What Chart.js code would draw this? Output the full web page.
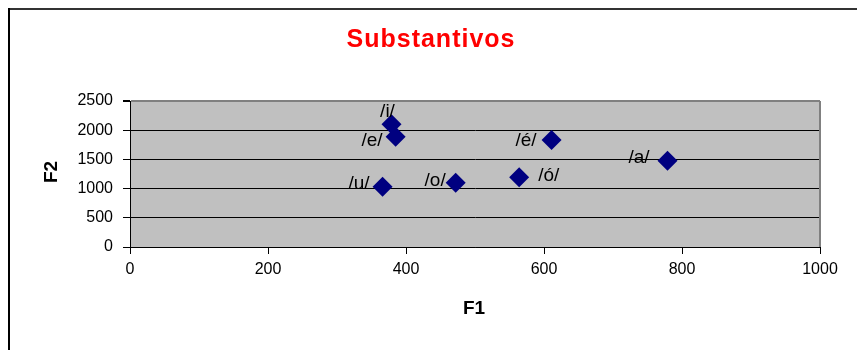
<!DOCTYPE html>
<html>
<head>
<meta charset="utf-8">
<script src="https://cdn.jsdelivr.net/npm/chart.js@4.4.1/dist/chart.umd.min.js"></script>
<style>
html, body { margin: 0; padding: 0; background: #fff; }
#wrap { position: relative; width: 857px; height: 350px; }
</style>
</head>
<body>
<div id="wrap"><canvas id="chart" width="857" height="350"></canvas></div>
<script>
// Datos: vocales (F1, F2)
var vowels = ['/i/', '/e/', '/é/', '/a/', '/ó/', '/o/', '/u/'];
var f1 = [379, 385, 611, 779, 564, 472, 366];
var f2 = [2101, 1889, 1832, 1478, 1193, 1101, 1033];
var xTicks = [0, 200, 400, 600, 800, 1000];
var yTicks = [0, 500, 1000, 1500, 2000, 2500];

// Posición de cada etiqueta respecto a su punto (como en la hoja original)
var labelPlace = [
    { align: 'center', dx: -4, dy: -13 },
    { align: 'right', dx: -13, dy: 4 },
    { align: 'right', dx: -15, dy: 1 },
    { align: 'right', dx: -18, dy: -3 },
    { align: 'left', dx: 19, dy: -2 },
    { align: 'right', dx: -10, dy: -2 },
    { align: 'right', dx: -13, dy: -3 }
];

var FONT = "'Liberation Sans', Arial, sans-serif";

// Fondo, marco y textos
var decoPlugin = {
    id: 'deco',
    beforeDraw: function (chart) {
        var ctx = chart.ctx, a = chart.chartArea;
        ctx.save();
        ctx.fillStyle = '#fff';
        ctx.fillRect(0, 0, chart.width, chart.height);
        // marco exterior
        ctx.fillStyle = '#333';
        ctx.fillRect(8, 8, chart.width - 8, 2);
        ctx.fillStyle = '#000';
        ctx.fillRect(8, 8, 2, chart.height - 8);
        // área del gráfico
        ctx.fillStyle = '#c0c0c0';
        ctx.fillRect(a.left, a.top, a.right - a.left, a.bottom - a.top);
        ctx.restore();
    },
    afterDatasetsDraw: function (chart) {
        var ctx = chart.ctx, a = chart.chartArea;
        var meta = chart.getDatasetMeta(0);
        ctx.save();
        // borde derecho gris
        ctx.fillStyle = '#808080';
        ctx.fillRect(a.right - 1, a.top, 2, a.bottom - a.top);
        // etiquetas de los puntos
        ctx.fillStyle = '#000';
        ctx.font = '19px ' + FONT;
        ctx.textBaseline = 'middle';
        meta.data.forEach(function (pt, i) {
            var p = labelPlace[i];
            ctx.textAlign = p.align;
            ctx.fillText(vowels[i], pt.x + p.dx, pt.y + p.dy);
        });
        // título
        ctx.fillStyle = '#ff0000';
        ctx.font = 'bold 25px ' + FONT;
        ctx.letterSpacing = '1px';
        ctx.textAlign = 'center';
        ctx.fillText('Substantivos', 431, 40);
        ctx.letterSpacing = '0px';
        // títulos de ejes
        ctx.fillStyle = '#000';
        ctx.font = 'bold 19px ' + FONT;
        ctx.fillText('F1', 474, 309);
        ctx.translate(52, 172);
        ctx.rotate(-Math.PI / 2);
        ctx.fillText('F2', 0, 0);
        ctx.restore();
    }
};

var ctx = document.getElementById('chart').getContext('2d');
new Chart(ctx, {
    type: 'scatter',
    data: {
        datasets: [{
            data: f1.map(function (x, i) { return { x: x, y: f2[i] }; }),
            pointStyle: 'rectRot',
            pointRadius: 10,
            pointHoverRadius: 10,
            backgroundColor: '#000080',
            borderColor: '#000080',
            borderWidth: 0
        }]
    },
    options: {
        responsive: false,
        animation: false,
        events: [],
        layout: { padding: { left: 0, right: 37, top: 101, bottom: 0 } },
        plugins: { legend: { display: false }, tooltip: { enabled: false } },
        scales: {
            x: {
                type: 'linear',
                min: 0, max: 1000,
                afterBuildTicks: function (s) { s.ticks = xTicks.map(function (v) { return { value: v }; }); },
                afterFit: function (s) { s.height = 103; },
                grid: { drawOnChartArea: false, drawTicks: true, tickLength: 7, tickColor: '#000' },
                border: { color: '#000', width: 1 },
                ticks: {
                    color: '#000', font: { family: FONT, size: 16 }, padding: 6, maxRotation: 0,
                    callback: function (v) { return String(v); }
                }
            },
            y: {
                type: 'linear',
                min: 0, max: 2500,
                afterBuildTicks: function (s) { s.ticks = yTicks.map(function (v) { return { value: v }; }); },
                afterFit: function (s) { s.width = 130; },
                grid: {
                    color: function (c) { return c.tick && c.tick.value === 2500 ? '#808080' : '#000'; },
                    lineWidth: function (c) { return c.tick && c.tick.value === 2500 ? 2 : 1; },
                    tickColor: '#000',
                    tickLength: 7
                },
                border: { color: '#000', width: 1 },
                ticks: {
                    color: '#000', font: { family: FONT, size: 16 }, padding: 10,
                    callback: function (v) { return String(v); }
                }
            }
        }
    },
    plugins: [decoPlugin]
});
</script>
</body>
</html>
